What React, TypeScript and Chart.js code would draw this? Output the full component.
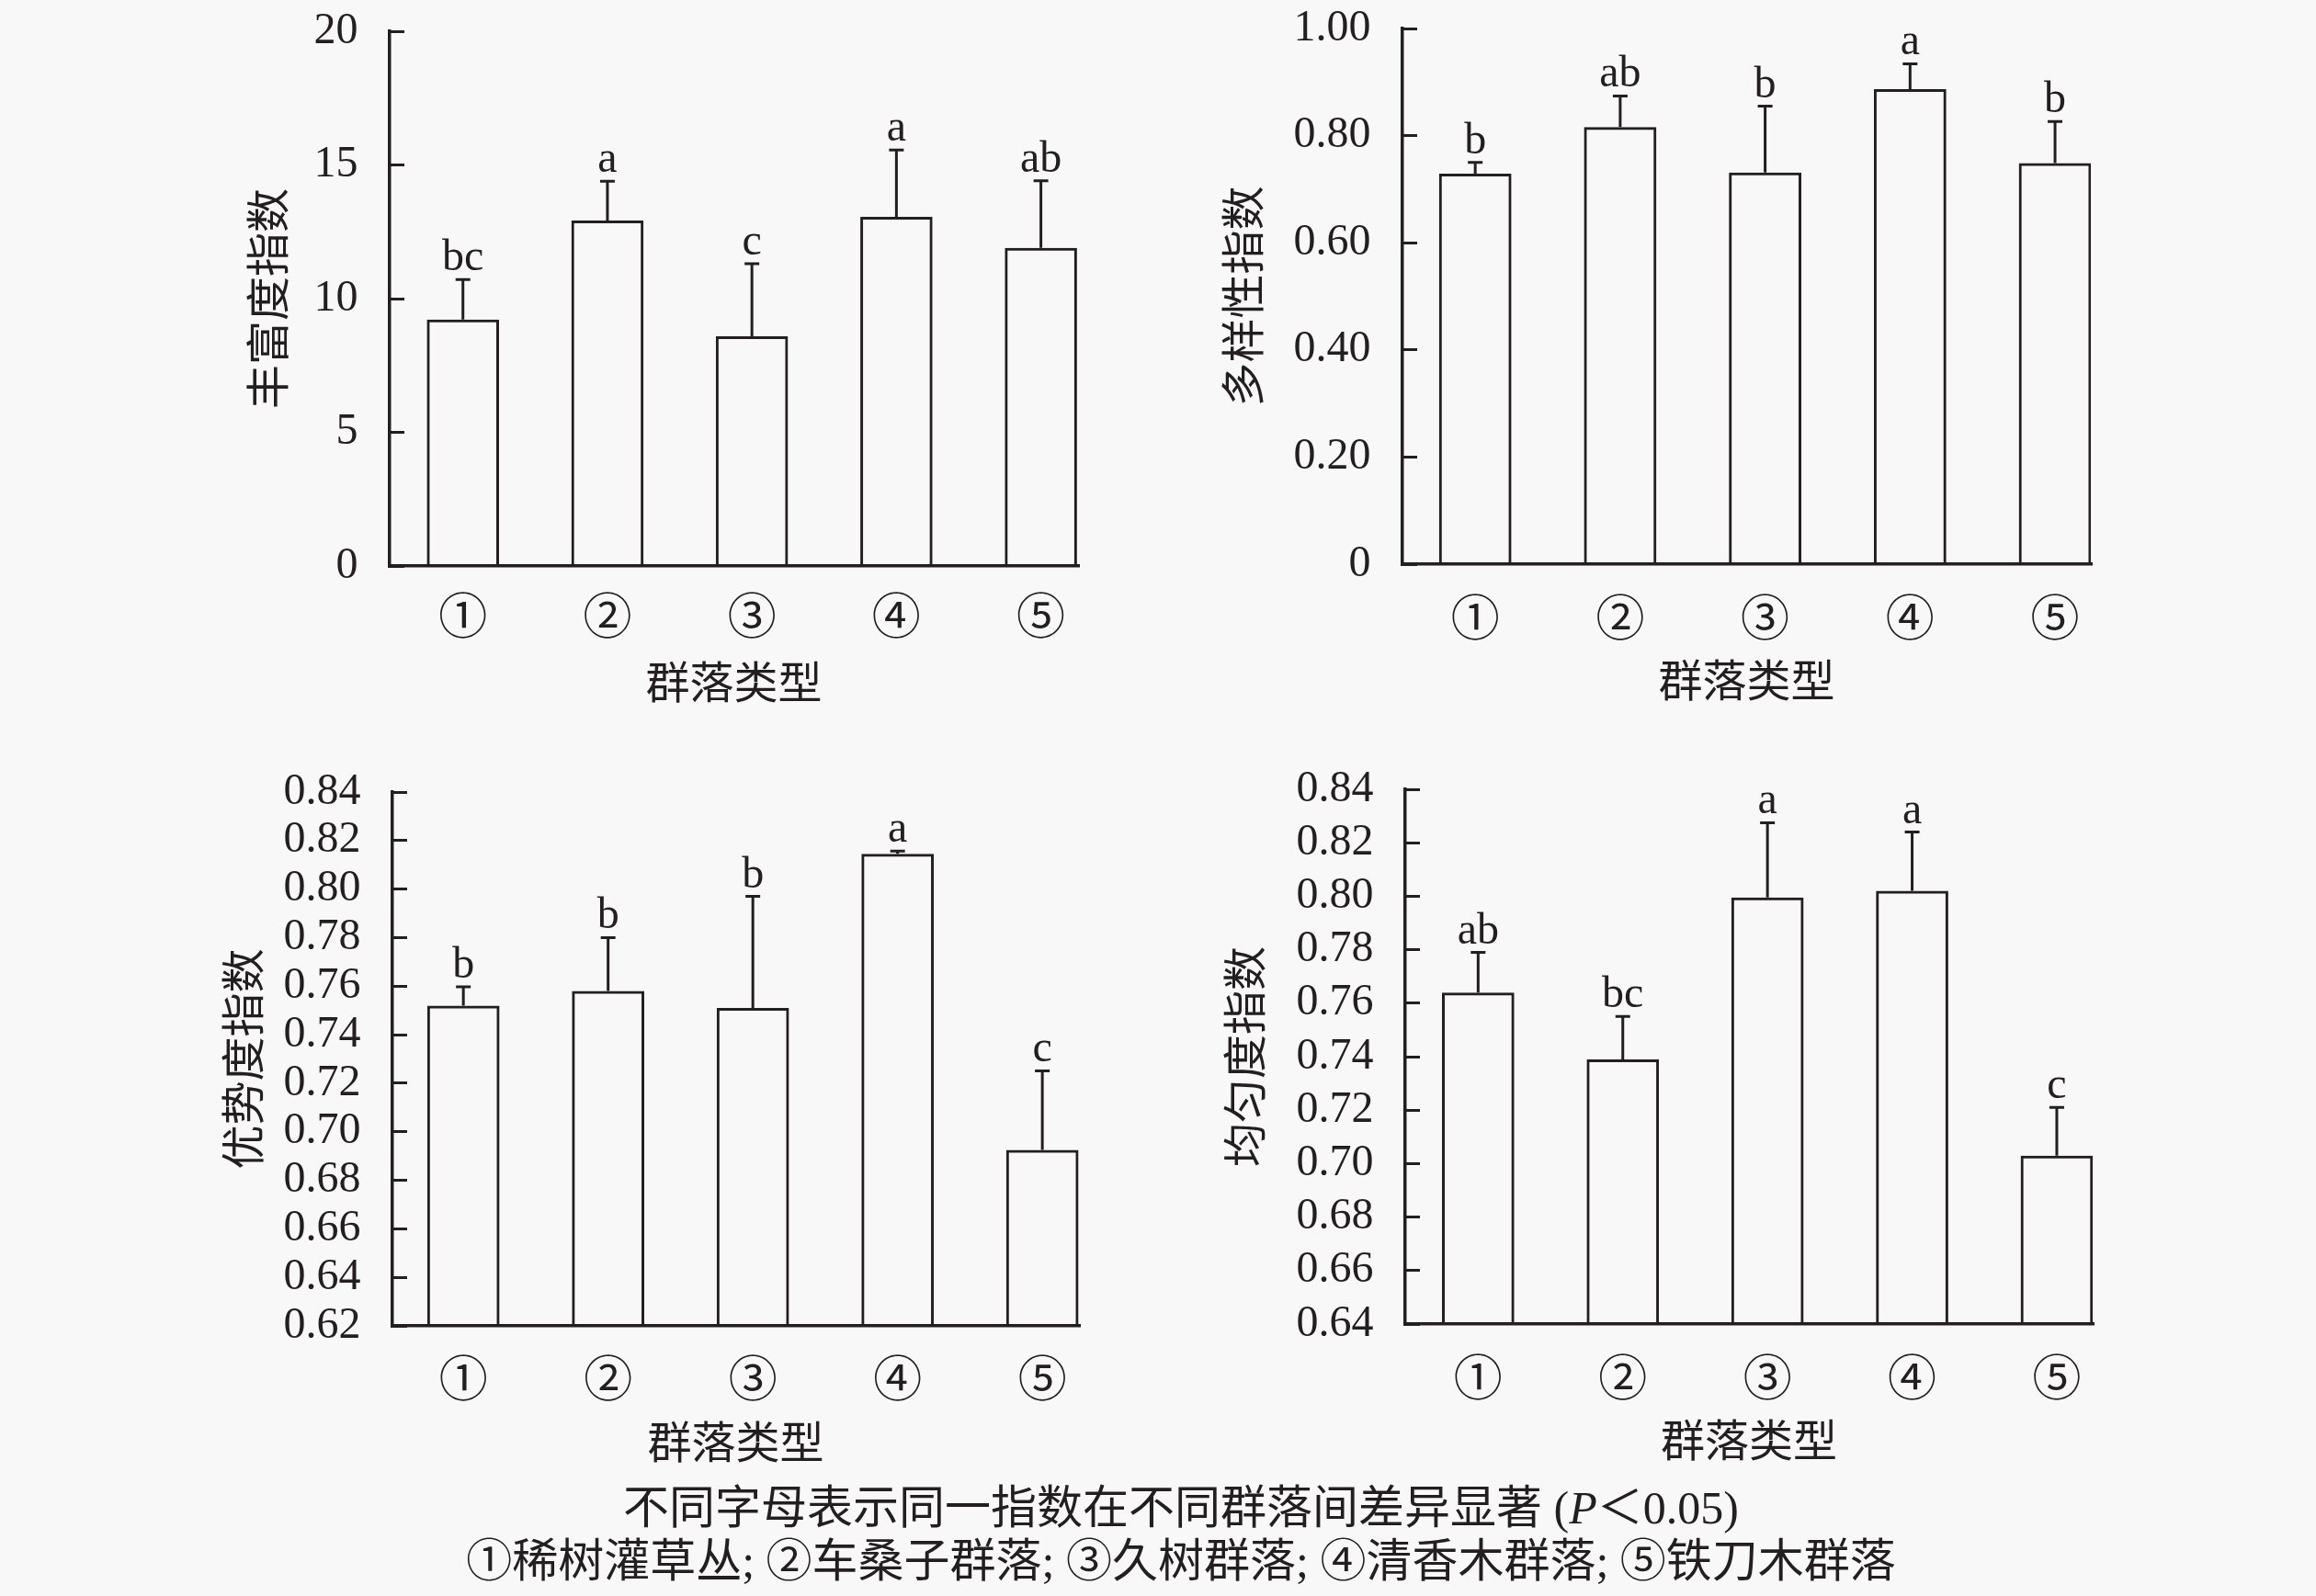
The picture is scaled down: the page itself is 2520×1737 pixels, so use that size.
import React, { useEffect, useRef } from 'react';
import { Chart, registerables } from 'chart.js';

Chart.register(...registerables);

// ---------- data ----------
const categories = ['①', '②', '③', '④', '⑤'];
const categoryPositions = [1, 2, 3, 4, 5];
const xAxisTitle = '群落类型';

const richnessTitle = '丰富度指数';
const richnessValues = [9.22, 12.92, 8.59, 13.06, 11.9];
const richnessErrors = [1.49, 1.47, 2.72, 2.5, 2.51];
const richnessLetters = ['bc', 'a', 'c', 'a', 'ab'];
const richnessTicks = [0, 5, 10, 15, 20];

const diversityTitle = '多样性指数';
const diversityValues = [0.729, 0.816, 0.731, 0.887, 0.7485];
const diversityErrors = [0.021, 0.058, 0.124, 0.047, 0.078];
const diversityLetters = ['b', 'ab', 'b', 'a', 'b'];
const diversityTicks = [0, 0.2, 0.4, 0.6, 0.8, 1.0];

const dominanceTitle = '优势度指数';
const dominanceValues = [0.752, 0.758, 0.751, 0.8145, 0.6925];
const dominanceErrors = [0.0077, 0.022, 0.046, 0.0012, 0.0326];
const dominanceLetters = ['b', 'b', 'b', 'a', 'c'];
const dominanceTicks = [0.62, 0.64, 0.66, 0.68, 0.7, 0.72, 0.74, 0.76, 0.78, 0.8, 0.82, 0.84];

const evennessTitle = '均匀度指数';
const evennessValues = [0.764, 0.739, 0.7995, 0.802, 0.703];
const evennessErrors = [0.015, 0.016, 0.028, 0.022, 0.018];
const evennessLetters = ['ab', 'bc', 'a', 'a', 'c'];
const evennessTicks = [0.64, 0.66, 0.68, 0.7, 0.72, 0.74, 0.76, 0.78, 0.8, 0.82, 0.84];

const captionLine1Before = '不同字母表示同一指数在不同群落间差异显著 (';
const captionLine1P = 'P';
const captionLine1After = '＜0.05)';
const captionLine2 = '①稀树灌草丛; ②车桑子群落; ③久树群落; ④清香木群落; ⑤铁刀木群落';

// ---------- styles ----------
const FONT = '"Liberation Serif", "Noto Sans CJK SC", serif';
const INK = '#231f20';
const BG = '#f8f8f8';
const FONT_SIZE = 48;
const X_TICK_FONT_SIZE = 53;

type Area = { L: number; R: number; T: number; B: number };
type PanelSpec = {
  area: Area;
  xMin: number;
  xMax: number;
  ticks: number[];
  values: number[];
  errors: number[];
  letters: string[];
  title: string;
  titlePad: number;
  xTickPad: number;
  format: (v: number) => string;
};

const Y_AXIS_W = 330;
const PAD_TOP = 100;
const PAD_RIGHT = 60;
const PAD_BOTTOM = 40;
const X_AXIS_H = 160;

const fmt2 = (v: number) => (v === 0 ? '0' : v.toFixed(2));
const fmt0 = (v: number) => String(Math.round(v));

const panels: PanelSpec[] = [
  {
    area: { L: 424, R: 1173, T: 34, B: 616 },
    xMin: 0.493, xMax: 5.257,
    ticks: richnessTicks, values: richnessValues, errors: richnessErrors, letters: richnessLetters,
    title: richnessTitle, titlePad: 174, xTickPad: 28, format: fmt0,
  },
  {
    area: { L: 1526, R: 2275, T: 31, B: 614 },
    xMin: 0.498, xMax: 5.247,
    ticks: diversityTicks, values: diversityValues, errors: diversityErrors, letters: diversityLetters,
    title: diversityTitle, titlePad: 133, xTickPad: 32, format: fmt2,
  },
  {
    area: { L: 427, R: 1174, T: 862, B: 1443 },
    xMin: 0.51, xMax: 5.253,
    ticks: dominanceTicks, values: dominanceValues, errors: dominanceErrors, letters: dominanceLetters,
    title: dominanceTitle, titlePad: 144, xTickPad: 31, format: fmt2,
  },
  {
    area: { L: 1529, R: 2277, T: 859, B: 1441 },
    xMin: 0.496, xMax: 5.248,
    ticks: evennessTicks, values: evennessValues, errors: evennessErrors, letters: evennessLetters,
    title: evennessTitle, titlePad: 132, xTickPad: 32, format: fmt2,
  },
];

function Panel({ spec }: { spec: PanelSpec }) {
  const ref = useRef<HTMLCanvasElement | null>(null);
  const { area } = spec;
  const left = area.L - Y_AXIS_W;
  const top = area.T - PAD_TOP;
  const width = area.R - area.L + Y_AXIS_W + PAD_RIGHT;
  const height = area.B - area.T + PAD_TOP + PAD_BOTTOM + X_AXIS_H;

  useEffect(() => {
    const canvas = ref.current;
    if (!canvas) return;

    const errorBars = {
      id: 'errorBars',
      afterDatasetsDraw(chart: any) {
        const { ctx } = chart;
        const meta = chart.getDatasetMeta(0);
        const yScale = chart.scales.y;
        ctx.save();
        ctx.strokeStyle = INK;
        ctx.lineWidth = 3;
        ctx.lineCap = 'butt';
        ctx.fillStyle = INK;
        ctx.font = `${FONT_SIZE}px ${FONT}`;
        ctx.textAlign = 'center';
        ctx.textBaseline = 'alphabetic';
        meta.data.forEach((bar: any, i: number) => {
          const v = spec.values[i];
          const e = spec.errors[i];
          const x = bar.x;
          const y0 = yScale.getPixelForValue(v);
          const y1 = yScale.getPixelForValue(v + e);
          ctx.beginPath();
          ctx.moveTo(x, y0);
          ctx.lineTo(x, y1);
          ctx.moveTo(x - 8, y1);
          ctx.lineTo(x + 8, y1);
          ctx.stroke();
          ctx.fillText(spec.letters[i], x, y1 - 10);
        });
        ctx.restore();
      },
    };

    const chart = new Chart(canvas, {
      type: 'bar',
      data: {
        datasets: [
          {
            data: spec.values.map((v, i) => ({ x: categoryPositions[i], y: v })),
            backgroundColor: 'rgba(0,0,0,0)',
            borderColor: INK,
            borderWidth: 3,
            barPercentage: 0.5,
            categoryPercentage: 1,
          },
        ],
      },
      options: {
        responsive: false,
        animation: false,
        layout: { padding: { left: 0, top: PAD_TOP, right: PAD_RIGHT, bottom: PAD_BOTTOM } },
        plugins: { legend: { display: false }, tooltip: { enabled: false } },
        scales: {
          x: {
            type: 'linear',
            offset: false,
            min: spec.xMin,
            max: spec.xMax,
            bounds: 'data',
            afterBuildTicks: (s: any) => {
              s.ticks = categoryPositions.map((v) => ({ value: v }));
            },
            afterFit: (s: any) => {
              s.height = X_AXIS_H;
            },
            grid: { display: true, offset: false, drawOnChartArea: false, drawTicks: false, color: INK, lineWidth: 3 },
            border: { display: true, color: INK, width: 3.5 },
            ticks: {
              autoSkip: false,
              maxRotation: 0,
              padding: spec.xTickPad,
              color: INK,
              font: { family: FONT, size: X_TICK_FONT_SIZE },
              callback: (v: any) => {
                const idx = categoryPositions.indexOf(Number(v));
                return idx >= 0 ? categories[idx] : '';
              },
            },
            title: {
              display: true,
              text: xAxisTitle,
              color: INK,
              font: { family: FONT, size: FONT_SIZE },
              padding: { top: 0, bottom: 0 },
            },
          },
          y: {
            type: 'linear',
            min: spec.ticks[0],
            max: spec.ticks[spec.ticks.length - 1],
            afterBuildTicks: (s: any) => {
              s.ticks = spec.ticks.map((v) => ({ value: v }));
            },
            afterFit: (s: any) => {
              s.width = Y_AXIS_W;
            },
            grid: {
              display: true,
              drawOnChartArea: false,
              drawTicks: true,
              tickLength: -16,
              color: INK,
              lineWidth: 3,
            },
            border: { display: true, color: INK, width: 3.5 },
            ticks: {
              autoSkip: false,
              padding: 50.5,
              color: INK,
              font: { family: FONT, size: FONT_SIZE },
              callback: (v: any) => spec.format(Number(v)),
            },
            title: {
              display: true,
              text: spec.title,
              color: INK,
              font: { family: FONT, size: FONT_SIZE },
              padding: { top: spec.titlePad, bottom: 0 },
            },
          },
        },
      } as any,
      plugins: [errorBars],
    });
    return () => chart.destroy();
  }, [spec]);

  return (
    <canvas
      ref={ref}
      width={width}
      height={height}
      style={{ position: 'absolute', left, top, width, height }}
    />
  );
}

export default function App() {
  return (
    <div
      style={{
        position: 'absolute',
        left: 0,
        top: 0,
        width: 2520,
        height: 1737,
        overflow: 'hidden',
        background: BG,
      }}
    >
      {panels.map((p, i) => (
        <Panel key={i} spec={p} />
      ))}
      <div
        style={{
          position: 'absolute',
          left: 85,
          width: 2400,
          top: 1612,
          textAlign: 'center',
          fontFamily: FONT,
          fontSize: 50,
          lineHeight: '58px',
          color: INK,
          whiteSpace: 'nowrap',
        }}
      >
        <div>
          {captionLine1Before}
          <i>{captionLine1P}</i>
          {captionLine1After}
        </div>
        <div>{captionLine2}</div>
      </div>
    </div>
  );
}
